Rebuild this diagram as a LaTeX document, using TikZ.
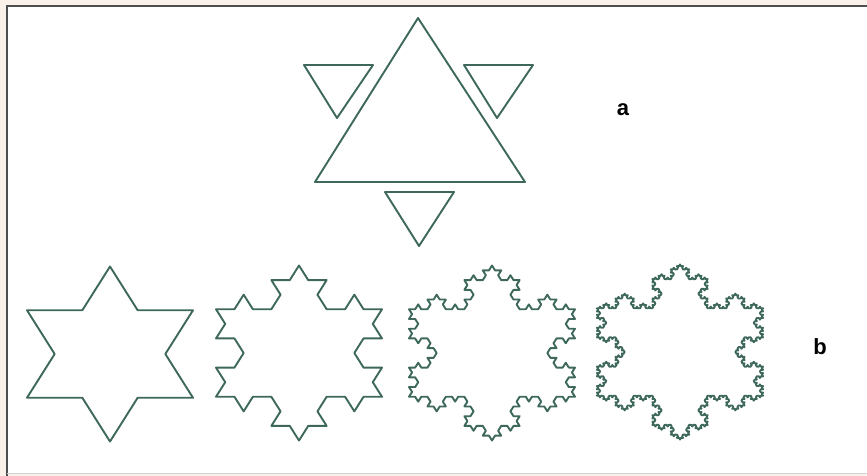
\documentclass[tikz,border=0pt]{standalone}
\usepackage{fontspec}
\setmainfont{Liberation Sans}
\usetikzlibrary{lindenmayersystems}
\pgfdeclarelindenmayersystem{KochFlake}{\rule{F -> F-F++F-F}}
\definecolor{ink}{RGB}{62,104,92}
\definecolor{framegray}{RGB}{78,78,78}
\definecolor{peach}{RGB}{250,242,234}
\begin{document}
\begin{tikzpicture}[x=1pt,y=-1pt,
  shapeline/.style={draw=ink, line width=1.9pt, line join=round, line cap=round},
  label/.style={font=\fontsize{22}{22}\selectfont\bfseries, inner sep=0pt}]
\useasboundingbox (0,0) rectangle (867,475);
\fill[peach] (-2,-2) rectangle (869,477);
\fill[white] (7,6) rectangle (869,473);
% frame
\draw[framegray, line width=2pt] (6,6) -- (869,6);
\draw[framegray, line width=2pt] (7,6) -- (7,477);
\draw[gray!35, line width=1.5pt] (7,473.5) -- (869,473.5);
% top figure
\draw[shapeline] (418,18) -- (315,182) -- (525,182) -- cycle;
\draw[shapeline] (304,65) -- (373,65) -- (337,118) -- cycle;
\draw[shapeline] (464,65) -- (533,65) -- (497,118) -- cycle;
\draw[shapeline] (385,192) -- (454,192) -- (419,246) -- cycle;
% koch flakes
\foreach \cx/\cy/\ord/\st in {110/354/1/55.333pt, 299/353/2/18.444pt, 492/353/3/6.148pt, 680/352/4/2.0494pt}{
  \begin{scope}[shift={(\cx,\cy)}, yscale=0.913]
    \begin{scope}[shift={(-83pt,-47.92pt)}]
      \draw[shapeline, lindenmayer system={KochFlake, axiom=F++F++F, order=\ord, step=\st, angle=60}] (0pt,0pt) lindenmayer system;
    \end{scope}
  \end{scope}
}
\node[label] (la) at (623,110) {a};
\node[label] (lb) at (820,347) {b};
\end{tikzpicture}
\end{document}
